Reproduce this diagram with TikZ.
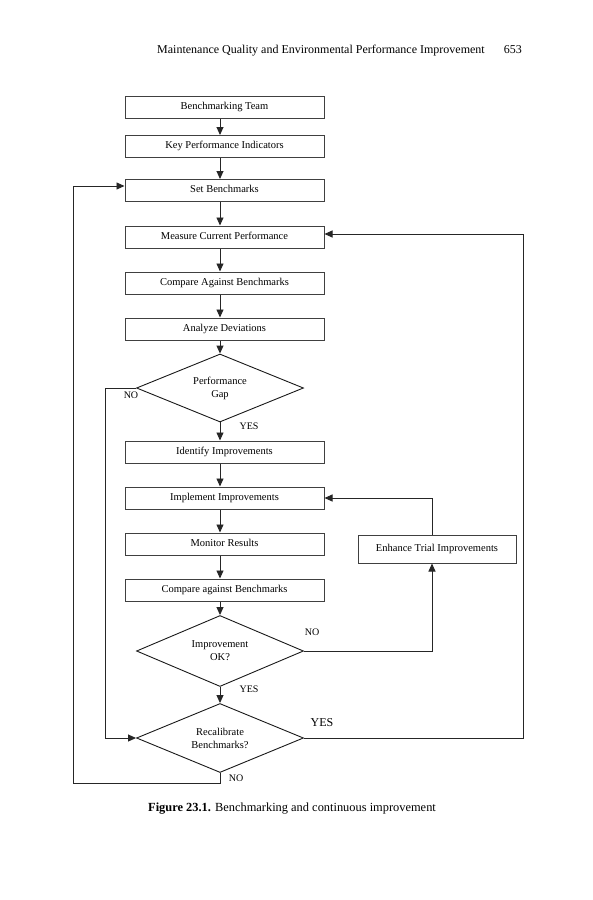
\documentclass[tikz,border=0pt]{standalone}
\usepackage{fontspec}
\setmainfont{Liberation Serif}
\usetikzlibrary{arrows.meta,shapes.geometric}
\newcommand{\ArrTip}{Triangle[length=8,width=7]}
\tikzset{stepbox/.style={draw=black!75,line width=1pt,rectangle,minimum width=199,minimum height=22,inner sep=0,text height=7,text depth=2.5,font=\fontsize{10.5}{12}\selectfont}}
\tikzset{choice/.style={draw=black!90,line width=.9pt,diamond,aspect=2.4,minimum width=167,minimum height=68,inner sep=0,align=center,font=\fontsize{10.5}{13}\selectfont}}
\tikzset{arr/.style={-{\ArrTip},line width=.9pt,draw=black!85}}
\tikzset{lbl/.style={font=\fontsize{10}{12}\selectfont,inner sep=0}}

\begin{document}
\begin{tikzpicture}[x=1pt,y=-1pt]
\useasboundingbox (0,0) rectangle (593,900);
\node[anchor=base west,inner sep=0,font=\fontsize{12}{14}\selectfont] (hd) at (157,53) {Maintenance Quality and Environmental Performance Improvement};
\node[anchor=base east,inner sep=0,font=\fontsize{12}{14}\selectfont] (pg) at (522,53) {653};
\coordinate (sp) at (220,0);
% main column
\node(bt)[stepbox]at(224.5,107){Benchmarking Team};
\node(kpi)[stepbox]at(224.5,146.5){Key Performance Indicators};
\node(sb)[stepbox]at(224.5,190.5){Set Benchmarks};
\node(mcp)[stepbox]at(224.5,237){Measure Current Performance};
\node(cab)[stepbox]at(224.5,283){Compare Against Benchmarks};
\node(ad)[stepbox]at(224.5,329){Analyze Deviations};
\node(gap)[choice]at(220,388){Performance\\Gap};
\node(ii)[stepbox]at(224.5,452){Identify Improvements};
\node(imp)[stepbox]at(224.5,498){Implement Improvements};
\node(mr)[stepbox]at(224.5,544){Monitor Results};
\node(cmp)[stepbox]at(224.5,590){Compare against Benchmarks};
\node(ok)[choice,minimum height=71]at(220,651){Improvement\\OK?};
\node(rc)[choice,minimum height=69]at(220,738){Recalibrate\\Benchmarks?};
\node(et)[stepbox,minimum width=158,minimum height=28]at(437,549){Enhance Trial Improvements};
\foreach \a/\b in {bt/kpi,kpi/sb,sb/mcp,mcp/cab,cab/ad,ad/gap,gap/ii,ii/imp,imp/mr,mr/cmp,cmp/ok,ok/rc}
  \draw[arr](\a.south -| sp)--(\b.north -| sp);
% loops
\coordinate(rt)at(523,234);\coordinate(lf)at(105,388);\coordinate(bl)at(73,783);
\draw[arr](ok.east)-|([xshift=-5]et.south);
\draw[arr]([xshift=-5]et.north)|-(imp.east);
\draw[arr](rc.east)-|(rt)--([yshift=3]mcp.east);
\draw[arr](gap.west)--(lf)|-(rc.west);
\draw[arr](rc.south)|-(bl)|-([yshift=4.5]sb.west);
\begin{scope}[lbl]
\node(n1)at(131,395){NO};\node(y1)at(249,426){YES};
\node(n2)at(312,632){NO};\node(y2)at(249,689){YES};
\node[font=\fontsize{12}{14}\selectfont](y3)at(322,723){YES};\node(n3)at(236,778){NO};
\end{scope}
\node[anchor=base west,inner sep=0,font=\fontsize{12.4}{14}\selectfont](cap)at(148,811){\textbf{Figure 23.1.} Benchmarking and continuous improvement};
\end{tikzpicture}
\end{document}
